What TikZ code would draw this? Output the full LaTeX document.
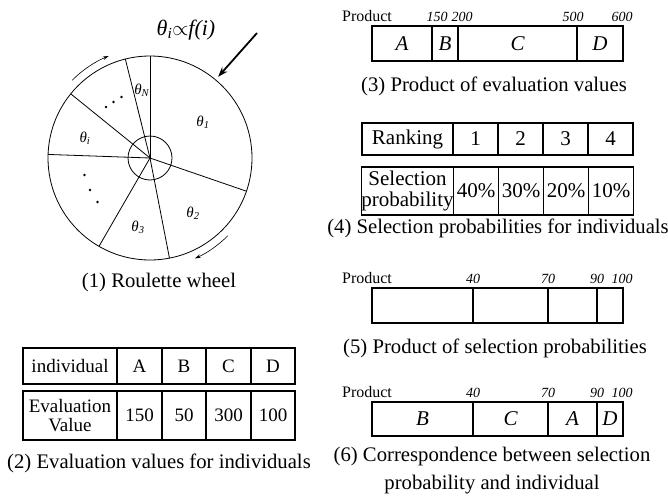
\documentclass[tikz,border=0pt]{standalone}
\usepackage{fontspec}
\setmainfont{Liberation Serif}
\usepackage{tikz}
\usetikzlibrary{positioning}
\usetikzlibrary{arrows.meta}

\newcommand{\thlab}[1]{\textit{θ}\textsubscript{\textit{#1}}}

\begin{document}
\begin{tikzpicture}[
    x=1pt, y=-1pt,
    cell/.style={draw, line width=1.3pt, outer sep=0pt, inner sep=0pt, align=center, font=\fontsize{19}{19}\selectfont},
    bigcell/.style={cell, font=\fontsize{21}{21}\selectfont},
    seg/.style={draw, line width=1.3pt, outer sep=0pt, inner sep=0pt, minimum height=35pt, font=\fontsize{21}{21}\selectfont\itshape},
    ticklab/.style={inner sep=0pt, font=\fontsize{14}{14}\selectfont\itshape},
    prod/.style={inner sep=0pt, font=\fontsize{16}{16}\selectfont},
    legend/.style={align=center, inner sep=1pt, font=\fontsize{20.7}{28}\selectfont},
    wlab/.style={font=\fontsize{15}{15}\selectfont},
    spin/.style={-{Stealth[length=6pt,width=3.5pt]}, line width=0.6pt},
    push/.style={-{Stealth[length=10pt,width=7pt]}, line width=1.8pt}
]
\useasboundingbox (0,0) rectangle (668,495);

% (1) Roulette wheel
\coordinate (c) at (150,158);
\draw[line width=0.8pt] (c) circle[radius=102];
\draw[line width=0.8pt] (c) circle[radius=22];
\foreach \a in {90,104,141,178,240,281,341}
    \draw[line width=0.8pt] (c) -- ++(-\a:102);

\node[wlab] (t1) at (203,122) {\thlab{1}};
\node[wlab] (t2) at (193,213) {\thlab{2}};
\node[wlab] (t3) at (138,227) {\thlab{3}};
\node[wlab] (ti) at (85,138) {\thlab{i}};
\node[wlab] (tN) at (142,90) {\thlab{N}};

\fill (106,107) circle[radius=1.4];
\fill (113.5,102) circle[radius=1.4];
\fill (121.5,97) circle[radius=1.4];
\fill (84.5,175) circle[radius=1.4];
\fill (90,190) circle[radius=1.4];
\fill (97.5,202) circle[radius=1.4];

% turning direction
\draw[spin] ([shift={(-135:110)}]c) arc[start angle=-135, end angle=-112, radius=110];
\draw[spin] ([shift={(45:110)}]c) arc[start angle=45, end angle=66, radius=110];

% pointer
\node[font=\fontsize{22}{22}\selectfont] (law) at (186,30) {\textit{θ}\textsubscript{\textit{i}}$\propto$\textit{f(i)}};
\coordinate (from) at (257,33);
\coordinate (rim) at ([shift={(-50:106)}]c);
\draw[push] (from) -- (rim);

\node[legend] (cap1) at (159,283) {(1) Roulette wheel};

% (2) Evaluation values
\node[cell, minimum width=94pt, minimum height=36pt] (ind) at (70,366) {individual};
\node[cell, minimum width=45pt, minimum height=36pt, right=0pt of ind] (iA) {A};
\node[cell, minimum width=44pt, minimum height=36pt, right=0pt of iA] (iB) {B};
\node[cell, minimum width=45pt, minimum height=36pt, right=0pt of iB] (iC) {C};
\node[cell, minimum width=44pt, minimum height=36pt, right=0pt of iC] (iD) {D};

\node[cell, minimum width=94pt, minimum height=49pt, below=7pt of ind] (ev) {Evaluation\\Value};
\node[cell, minimum width=45pt, minimum height=49pt, right=0pt of ev] (vA) {150};
\node[cell, minimum width=44pt, minimum height=49pt, right=0pt of vA] (vB) {50};
\node[cell, minimum width=45pt, minimum height=49pt, right=0pt of vB] (vC) {300};
\node[cell, minimum width=44pt, minimum height=49pt, right=0pt of vC] (vD) {100};

\node[legend] (cap2) at (159,463) {(2) Evaluation values for individuals};

% (3) Product of evaluation values
\node[seg, minimum width=60pt] (sA) at (402,43.5) {A};
\node[seg, minimum width=26pt, right=0pt of sA] (sB) {B};
\node[seg, minimum width=119pt, right=0pt of sB] (sC) {C};
\node[seg, minimum width=46pt, right=0pt of sC] (sD) {D};

\node[prod, above=4pt of sA.north west, xshift=-5pt] (p3) {Product};
\node[ticklab, above=4pt of sA.north east, xshift=5pt] (k150) {150};
\node[ticklab, above=4pt of sB.north east, xshift=4pt] (k200) {200};
\node[ticklab, above=4pt of sC.north east, xshift=-4pt] (k500) {500};
\node[ticklab, above=4pt of sD.north east, xshift=-1pt] (k600) {600};

\node[legend] (cap3) at (494,86) {(3) Product of evaluation values};

% (4) Selection probabilities
\node[bigcell, minimum width=91pt, minimum height=32pt] (rank) at (407.5,139) {Ranking};
\node[bigcell, minimum width=45pt, minimum height=32pt, right=0pt of rank] (r1) {1};
\node[bigcell, minimum width=45pt, minimum height=32pt, right=0pt of r1] (r2) {2};
\node[bigcell, minimum width=45pt, minimum height=32pt, right=0pt of r2] (r3) {3};
\node[bigcell, minimum width=45pt, minimum height=32pt, right=0pt of r3] (r4) {4};

\node[bigcell, minimum width=91pt, minimum height=48pt, below=12pt of rank] (selp) {Selection\\probability};
\node[bigcell, minimum width=45pt, minimum height=48pt, right=0pt of selp] (q1) {40\%};
\node[bigcell, minimum width=45pt, minimum height=48pt, right=0pt of q1] (q2) {30\%};
\node[bigcell, minimum width=45pt, minimum height=48pt, right=0pt of q2] (q3) {20\%};
\node[bigcell, minimum width=45pt, minimum height=48pt, right=0pt of q3] (q4) {10\%};

\node[legend] (cap4) at (498,228) {(4) Selection probabilities for individuals};

% (5) Product of selection probabilities
\node[seg, minimum width=101pt] (u1) at (422.5,305.5) {};
\node[seg, minimum width=75pt, right=0pt of u1] (u2) {};
\node[seg, minimum width=49pt, right=0pt of u2] (u3) {};
\node[seg, minimum width=26pt, right=0pt of u3] (u4) {};

\node[prod, above=4pt of u1.north west, xshift=-5pt] (p5) {Product};
\node[ticklab, above=4pt of u1.north east] (k40) {40};
\node[ticklab, above=4pt of u2.north east] (k70) {70};
\node[ticklab, above=4pt of u3.north east] (k90) {90};
\node[ticklab, above=4pt of u4.north east, xshift=-1pt] (k100) {100};

\node[legend] (cap5) at (495,348) {(5) Product of selection probabilities};

% (6) Correspondence
\node[seg, minimum width=101pt, minimum height=34pt] (w1) at (422.5,419) {B};
\node[seg, minimum width=75pt, minimum height=34pt, right=0pt of w1] (w2) {C};
\node[seg, minimum width=49pt, minimum height=34pt, right=0pt of w2] (w3) {A};
\node[seg, minimum width=26pt, minimum height=34pt, right=0pt of w3] (w4) {D};

\node[prod, above=4pt of w1.north west, xshift=-5pt] (p6) {Product};
\node[ticklab, above=4pt of w1.north east] (m40) {40};
\node[ticklab, above=4pt of w2.north east] (m70) {70};
\node[ticklab, above=4pt of w3.north east] (m90) {90};
\node[ticklab, above=4pt of w4.north east, xshift=-1pt] (m100) {100};

\node[legend] (cap6) at (492,471) {(6) Correspondence between selection\\probability and individual};
\end{tikzpicture}
\end{document}
